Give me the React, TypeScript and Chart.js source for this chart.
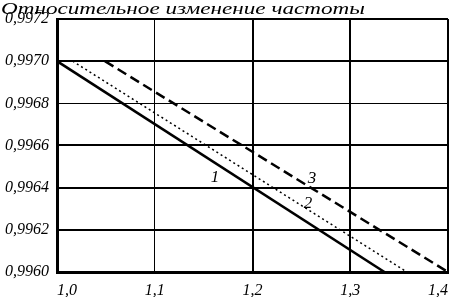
import React, { useEffect, useRef } from "react";
import { Chart, registerables } from "chart.js";

Chart.register(...registerables);

const titleText = "Относительное изменение частоты";
const xTicks = [1.0, 1.1, 1.2, 1.3, 1.4];
const yTicks = [0.996, 0.9962, 0.9964, 0.9966, 0.9968, 0.997, 0.9972];

const series1X = [1.0, 1.335];
const series1Y = [0.997, 0.996];
const series2X = [1.016, 1.358];
const series2Y = [0.997, 0.996];
const series3X = [1.049, 1.4];
const series3Y = [0.997, 0.996];

const noteTexts = ["1", "2", "3"];
const noteX = [1.1616, 1.2568, 1.2609];
const noteY = [0.996446, 0.996323, 0.996441];

const FONT = "'Liberation Serif', 'DejaVu Serif', serif";

function pts(xs: number[], ys: number[]) {
  return xs.map((x, i) => ({ x, y: ys[i] }));
}

const notesPlugin = {
  id: "notes",
  afterDatasetsDraw(chart: any) {
    const { ctx, scales } = chart;
    ctx.save();
    ctx.font = `italic 17px ${FONT}`;
    ctx.fillStyle = "#000";
    ctx.textAlign = "center";
    ctx.textBaseline = "middle";
    noteTexts.forEach((t, i) => {
      ctx.fillText(t, scales.x.getPixelForValue(noteX[i]), scales.y.getPixelForValue(noteY[i]));
    });
    ctx.restore();
  },
};

const titlePlugin = {
  id: "stretchedTitle",
  afterDraw(chart: any) {
    const { ctx } = chart;
    ctx.save();
    ctx.font = `italic 17px ${FONT}`;
    ctx.fillStyle = "#000";
    ctx.textAlign = "left";
    ctx.textBaseline = "alphabetic";
    const w = ctx.measureText(titleText).width;
    const sx = 364 / w;
    ctx.translate(1, 14);
    ctx.scale(sx, 1);
    ctx.fillText(titleText, 0, 0);
    ctx.restore();
  },
};

const fmt = (v: number, d: number) => v.toFixed(d).replace(".", ",");

export default function App() {
  const ref = useRef<HTMLCanvasElement>(null);
  useEffect(() => {
    document.body.style.margin = "0";
    const chart = new Chart(ref.current!, {
      type: "line",
      data: {
        datasets: [
          { data: pts(series1X, series1Y), borderColor: "#000", borderWidth: 2.5, pointRadius: 0 },
          { data: pts(series2X, series2Y), borderColor: "#000", borderWidth: 1.5, borderDash: [2, 3], pointRadius: 0 },
          { data: pts(series3X, series3Y), borderColor: "#000", borderWidth: 2.5, borderDash: [10, 5], pointRadius: 0 },
        ],
      },
      options: {
        animation: false,
        responsive: false,
        layout: { padding: { right: 3, left: 0, top: 19, bottom: 0 } },
        plugins: {
          legend: { display: false },
          tooltip: { enabled: false },
          title: { display: false },
        },
        scales: {
          x: {
            type: "linear",
            min: 1.0,
            max: 1.4,
            afterBuildTicks: (s: any) => { s.ticks = xTicks.map((v) => ({ value: v })); },
            afterFit: (s: any) => { s.height = 25; s.paddingLeft = 0; s.paddingRight = 0; },
            ticks: {
              align: "inner",
              color: "#000",
              padding: 9,
              font: { family: FONT, size: 16, style: "italic" },
              callback: (v: any) => fmt(Number(v), 1),
            },
            grid: {
              color: "#000",
              drawTicks: false,
              lineWidth: (c: any) => (c.tick && Math.abs(c.tick.value - 1.1) < 1e-6 ? 1 : 2),
            },
            border: { display: true, color: "#000", width: 3 },
          },
          y: {
            type: "linear",
            min: 0.996,
            max: 0.9972,
            afterBuildTicks: (s: any) => { s.ticks = yTicks.map((v) => ({ value: v })); },
            afterFit: (s: any) => { s.width = 57; s.paddingTop = 0; s.paddingBottom = 0; },
            ticks: {
              align: "inner",
              color: "#000",
              padding: 8,
              font: { family: FONT, size: 16, style: "italic" },
              callback: (v: any) => fmt(Number(v), 4),
            },
            grid: {
              color: "#000",
              drawTicks: false,
              lineWidth: (c: any) => (c.tick && Math.abs(c.tick.value - 0.9968) < 1e-7 ? 1 : 2),
            },
            border: { display: true, color: "#000", width: 3 },
          },
        },
      },
      plugins: [notesPlugin, titlePlugin],
    });
    return () => chart.destroy();
  }, []);
  return (
    <div style={{ width: 451, height: 297 }}>
      <canvas ref={ref} width={451} height={297} />
    </div>
  );
}
